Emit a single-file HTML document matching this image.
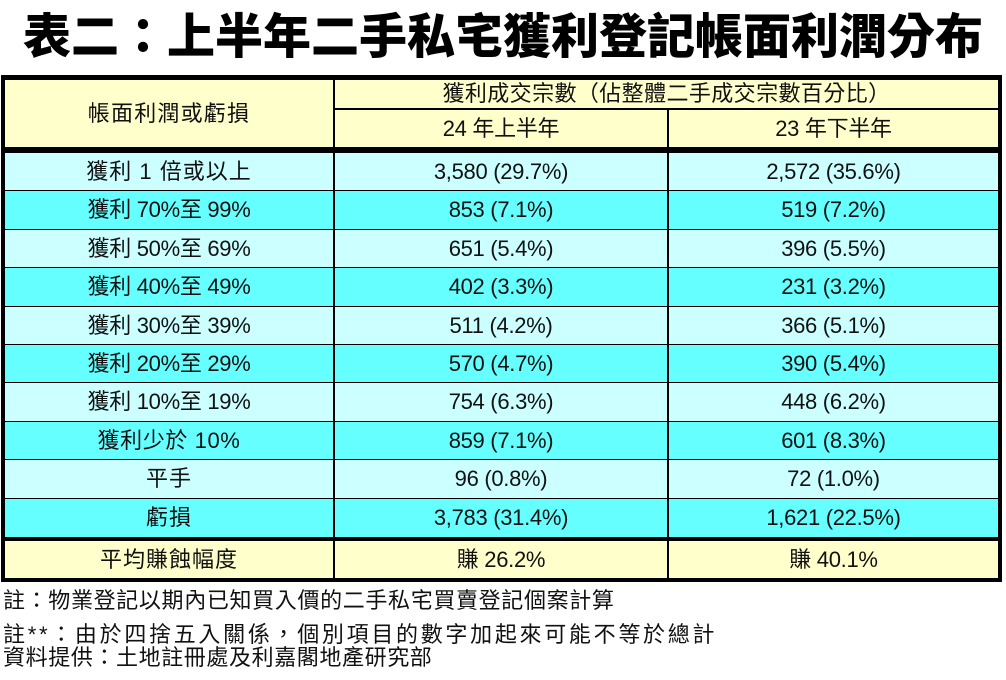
<!DOCTYPE html>
<html><head><meta charset="utf-8">
<style>
*{margin:0;padding:0;box-sizing:border-box}
html,body{width:1006px;height:680px;background:#fff;overflow:hidden}
body{position:relative;font-family:"Liberation Sans","Noto Sans CJK TC","Noto Sans CJK SC",sans-serif;color:#111}
.a{position:absolute}
.title{left:0;top:14px;width:1006px;height:48px;line-height:48px;text-align:center;font-size:48px;font-weight:900;color:#000;font-family:"Liberation Sans","Noto Sans CJK TC",sans-serif}
.t{position:absolute;text-align:center;font-size:22px;white-space:nowrap;letter-spacing:-0.3px}
.bk{position:absolute;background:#000}
.note{position:absolute;left:3px;font-size:22px;white-space:nowrap;line-height:24px;color:#111}
</style></head><body>
<div class="a title">表二：上半年二手私宅獲利登記帳面利潤分布</div>

<div class="bk" style="left:1px;top:75px;width:1001px;height:507px"></div>
<div class="a" style="left:5px;top:80px;width:993px;height:67px;background:#FFFFCC"></div>
<div class="a" style="left:5px;top:153px;width:993px;height:384px;background:#000"></div>
<div class="a" style="left:5px;top:153.0px;width:993px;height:37.4px;background:#CCFFFF"></div>
<div class="a" style="left:5px;top:191.4px;width:993px;height:37.4px;background:#66FFFF"></div>
<div class="a" style="left:5px;top:229.8px;width:993px;height:37.4px;background:#CCFFFF"></div>
<div class="a" style="left:5px;top:268.2px;width:993px;height:37.4px;background:#66FFFF"></div>
<div class="a" style="left:5px;top:306.6px;width:993px;height:37.4px;background:#CCFFFF"></div>
<div class="a" style="left:5px;top:345.0px;width:993px;height:37.4px;background:#66FFFF"></div>
<div class="a" style="left:5px;top:383.4px;width:993px;height:37.4px;background:#CCFFFF"></div>
<div class="a" style="left:5px;top:421.8px;width:993px;height:37.4px;background:#66FFFF"></div>
<div class="a" style="left:5px;top:460.2px;width:993px;height:37.4px;background:#CCFFFF"></div>
<div class="a" style="left:5px;top:498.6px;width:993px;height:38.4px;background:#66FFFF"></div>
<div class="a" style="left:5px;top:541px;width:993px;height:37px;background:#FFFFCC"></div>

<div class="bk" style="left:334px;top:107.5px;width:664px;height:2px"></div>
<div class="bk" style="left:333px;top:80px;width:2px;height:498px"></div>
<div class="bk" style="left:667px;top:109px;width:2px;height:469px"></div>

<div class="t" style="left:5px;top:80px;width:328px;height:67px;line-height:67px;letter-spacing:1.2px">帳面利潤或虧損</div>
<div class="t" style="left:335px;top:80px;width:663px;height:28px;line-height:28px;letter-spacing:0.4px">獲利成交宗數（佔整體二手成交宗數百分比）</div>
<div class="t" style="left:335px;top:110px;width:332px;height:37px;line-height:37px">24 年上半年</div>
<div class="t" style="left:669px;top:110px;width:329px;height:37px;line-height:37px">23 年下半年</div>

<div class="t" style="left:5px;top:153px;width:328px;height:37.4px;line-height:37.4px;letter-spacing:1px">獲利 1 倍或以上</div>
<div class="t" style="left:335px;top:153px;width:332px;height:37.4px;line-height:37.4px">3,580 (29.7%)</div>
<div class="t" style="left:669px;top:153px;width:329px;height:37.4px;line-height:37.4px">2,572 (35.6%)</div>

<div class="t" style="left:5px;top:191.4px;width:328px;height:37.4px;line-height:37.4px">獲利 70%至 99%</div>
<div class="t" style="left:335px;top:191.4px;width:332px;height:37.4px;line-height:37.4px">853 (7.1%)</div>
<div class="t" style="left:669px;top:191.4px;width:329px;height:37.4px;line-height:37.4px">519 (7.2%)</div>

<div class="t" style="left:5px;top:229.8px;width:328px;height:37.4px;line-height:37.4px">獲利 50%至 69%</div>
<div class="t" style="left:335px;top:229.8px;width:332px;height:37.4px;line-height:37.4px">651 (5.4%)</div>
<div class="t" style="left:669px;top:229.8px;width:329px;height:37.4px;line-height:37.4px">396 (5.5%)</div>

<div class="t" style="left:5px;top:268.2px;width:328px;height:37.4px;line-height:37.4px">獲利 40%至 49%</div>
<div class="t" style="left:335px;top:268.2px;width:332px;height:37.4px;line-height:37.4px">402 (3.3%)</div>
<div class="t" style="left:669px;top:268.2px;width:329px;height:37.4px;line-height:37.4px">231 (3.2%)</div>

<div class="t" style="left:5px;top:306.6px;width:328px;height:37.4px;line-height:37.4px">獲利 30%至 39%</div>
<div class="t" style="left:335px;top:306.6px;width:332px;height:37.4px;line-height:37.4px">511 (4.2%)</div>
<div class="t" style="left:669px;top:306.6px;width:329px;height:37.4px;line-height:37.4px">366 (5.1%)</div>

<div class="t" style="left:5px;top:345px;width:328px;height:37.4px;line-height:37.4px">獲利 20%至 29%</div>
<div class="t" style="left:335px;top:345px;width:332px;height:37.4px;line-height:37.4px">570 (4.7%)</div>
<div class="t" style="left:669px;top:345px;width:329px;height:37.4px;line-height:37.4px">390 (5.4%)</div>

<div class="t" style="left:5px;top:383.4px;width:328px;height:37.4px;line-height:37.4px">獲利 10%至 19%</div>
<div class="t" style="left:335px;top:383.4px;width:332px;height:37.4px;line-height:37.4px">754 (6.3%)</div>
<div class="t" style="left:669px;top:383.4px;width:329px;height:37.4px;line-height:37.4px">448 (6.2%)</div>

<div class="t" style="left:5px;top:421.8px;width:328px;height:37.4px;line-height:37.4px;letter-spacing:0.6px">獲利少於 10%</div>
<div class="t" style="left:335px;top:421.8px;width:332px;height:37.4px;line-height:37.4px">859 (7.1%)</div>
<div class="t" style="left:669px;top:421.8px;width:329px;height:37.4px;line-height:37.4px">601 (8.3%)</div>

<div class="t" style="left:5px;top:460.2px;width:328px;height:37.4px;line-height:37.4px;letter-spacing:1px">平手</div>
<div class="t" style="left:335px;top:460.2px;width:332px;height:37.4px;line-height:37.4px">96 (0.8%)</div>
<div class="t" style="left:669px;top:460.2px;width:329px;height:37.4px;line-height:37.4px">72 (1.0%)</div>

<div class="t" style="left:5px;top:498.6px;width:328px;height:38.4px;line-height:38.4px;letter-spacing:1px">虧損</div>
<div class="t" style="left:335px;top:498.6px;width:332px;height:38.4px;line-height:38.4px">3,783 (31.4%)</div>
<div class="t" style="left:669px;top:498.6px;width:329px;height:38.4px;line-height:38.4px">1,621 (22.5%)</div>

<div class="t" style="left:5px;top:541px;width:328px;height:37px;line-height:37px;letter-spacing:1px">平均賺蝕幅度</div>
<div class="t" style="left:335px;top:541px;width:332px;height:37px;line-height:37px">賺 26.2%</div>
<div class="t" style="left:669px;top:541px;width:329px;height:37px;line-height:37px">賺 40.1%</div>

<div class="note" style="top:589px;letter-spacing:0.65px">註：物業登記以期內已知買入價的二手私宅買賣登記個案計算</div>
<div class="note" style="top:623px;letter-spacing:2.7px">註**：由於四捨五入關係，個別項目的數字加起來可能不等於總計</div>
<div class="note" style="top:646px;letter-spacing:0.6px">資料提供：土地註冊處及利嘉閣地產研究部</div>
</body></html>
